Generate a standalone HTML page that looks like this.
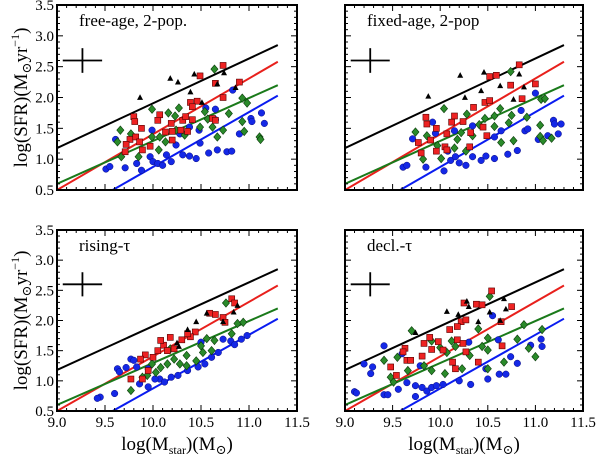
<!DOCTYPE html>
<html><head><meta charset="utf-8"><style>
body{margin:0;background:#fff}
svg{display:block}
text{font-family:"Liberation Serif","DejaVu Serif",serif;fill:#000}
</style></head><body>
<svg id="chart" width="600" height="460" viewBox="0 0 600 460"></svg>
<script>
const panelTitles=["free-age, 2-pop.","fixed-age, 2-pop","rising-\u03c4","decl.-\u03c4"];
const xTicks=[9.0,9.5,10.0,10.5,11.0,11.5];
const yTicks=[0.5,1.0,1.5,2.0,2.5,3.0,3.5];
const fitBlack=[[9.0,1.18],[11.3,2.85]];
const fitRed=[[9.0,0.5],[11.3,2.58]];
const fitGreen=[[9.0,0.6],[11.3,2.2]];
const fitBlue=[[9.58,0.5],[11.3,2.03]];
const errBar={x:9.265,y:2.6,dx:0.205,dy:0.2};

const p1Black=[[9.865,2.0],[10.18,2.31],[10.26,2.25],[10.43,2.38],[10.39,2.09],[10.51,1.92],[10.74,2.4],[10.67,2.22],[10.86,2.16]];
const p1Red=[[10.49,2.35],[10.73,2.52],[10.65,2.23],[10.9,2.25],[10.73,2.0],[10.39,1.92],[10.46,1.94],[10.41,1.85],[10.07,1.72],[9.8,1.69],[9.81,1.61],[9.88,1.5],[10.05,1.63],[10.19,1.58],[10.31,1.63],[10.34,1.69],[10.41,1.64],[10.29,1.47],[10.36,1.45],[10.62,1.66],[10.65,1.63],[10.2,1.31],[10.2,1.45],[9.76,1.32],[9.82,1.36],[9.86,1.28],[9.72,1.24],[9.71,1.12],[9.97,1.21],[9.89,1.15],[10.13,1.44]];
const p1Green=[[10.64,2.46],[9.99,1.81],[10.27,1.83],[10.16,1.75],[10.23,1.7],[10.54,1.77],[10.57,1.65],[10.79,1.74],[10.93,1.99],[10.98,1.91],[9.66,1.47],[9.77,1.41],[9.63,1.28],[9.67,1.04],[9.85,1.04],[9.99,1.36],[10.07,1.36],[10.13,1.28],[10.06,1.15],[10.33,1.39],[10.49,1.52],[10.62,1.52],[10.67,1.36],[10.73,1.47],[10.93,1.61],[10.95,1.45],[11.11,1.36],[11.12,1.32],[10.24,1.47]];
const p1Blue=[[9.51,0.84],[9.55,0.88],[9.61,1.32],[9.71,0.86],[9.83,0.93],[9.88,0.82],[9.97,1.04],[10.0,0.96],[10.05,0.93],[10.1,0.9],[10.14,1.07],[10.19,0.96],[9.99,1.47],[10.24,1.23],[10.31,1.07],[10.38,1.05],[10.45,1.01],[10.58,1.1],[10.67,1.15],[10.77,1.12],[10.82,1.13],[10.48,1.47],[10.65,1.64],[10.55,1.83],[10.65,1.81],[10.83,2.12],[10.9,1.41],[11.02,1.66],[11.03,1.61],[11.13,1.75],[11.16,1.58],[10.38,1.52],[10.49,1.26],[10.28,1.41]];

const p2Black=[[9.875,2.02],[10.21,2.36],[10.26,2.0],[10.46,2.41],[10.43,2.11],[10.63,2.19],[10.83,2.38],[10.77,1.97],[10.88,2.17]];
const p2Red=[[10.52,2.34],[10.59,2.36],[10.83,2.53],[10.74,2.2],[11.0,2.22],[10.86,1.98],[10.35,1.84],[10.47,1.92],[10.52,1.95],[10.15,1.7],[10.12,1.6],[9.85,1.68],[9.86,1.57],[9.96,1.5],[10.24,1.61],[10.45,1.52],[10.49,1.38],[10.07,1.41],[9.9,1.31],[9.77,1.27],[9.8,1.1],[9.96,1.13],[10.05,1.2],[10.07,1.15],[10.31,1.2],[10.32,1.43]];
const p2Green=[[10.04,1.82],[10.63,1.82],[10.74,2.42],[10.28,1.73],[10.47,1.66],[10.75,1.71],[9.74,1.44],[9.86,1.38],[9.82,1.0],[9.97,1.22],[10.01,1.01],[10.15,1.18],[10.22,1.43],[10.34,1.38],[10.41,1.56],[10.57,1.53],[10.72,1.59],[10.64,1.27],[10.77,1.3],[11.06,1.97],[11.1,1.98],[11.05,1.55],[11.05,1.37],[11.17,1.34],[11.08,1.3],[10.91,1.68],[10.18,1.32],[10.27,1.13],[10.57,1.7]];
const p2Blue=[[9.61,0.87],[9.65,0.9],[9.85,0.87],[9.71,1.33],[9.92,1.6],[9.95,1.42],[10.04,0.81],[10.11,0.98],[10.16,1.04],[10.2,0.94],[10.27,0.9],[10.34,1.04],[10.43,0.98],[10.48,1.05],[10.57,1.01],[10.71,1.08],[10.81,1.14],[10.89,1.46],[10.92,1.49],[10.85,1.79],[11.0,2.07],[11.19,1.63],[11.2,1.57],[11.27,1.57],[11.24,1.41],[11.13,1.38],[11.03,1.32],[10.57,1.36],[10.34,1.54],[10.64,1.46],[10.15,1.46],[10.08,1.13]];

const p3Black=[[10.45,1.98],[10.36,1.85],[10.27,1.57],[10.84,2.14],[10.88,2.25],[10.73,1.98],[10.56,2.12],[10.25,1.63]];
const p3Red=[[10.82,2.36],[10.85,2.29],[10.65,2.1],[10.59,2.12],[10.73,2.05],[10.75,1.97],[10.44,1.81],[10.39,1.73],[10.3,1.68],[10.18,1.72],[10.11,1.59],[10.05,1.5],[10.15,1.5],[10.22,1.53],[9.92,1.43],[9.87,1.36],[9.95,1.17],[9.77,1.03],[9.89,1.03],[10.08,1.67],[10.36,1.78],[10.0,1.39]];
const p3Green=[[10.76,2.29],[10.88,1.95],[10.82,1.78],[10.56,1.7],[10.61,1.5],[10.45,1.33],[10.35,1.42],[10.28,1.28],[10.22,1.36],[10.15,1.28],[10.08,1.22],[10.03,1.14],[9.94,1.09],[9.89,1.06],[9.77,0.84],[9.99,1.28],[10.18,1.53],[10.35,1.25],[10.52,1.47],[10.64,1.67],[10.94,1.97],[10.5,1.58]];
const p3Blue=[[9.45,0.73],[9.42,0.71],[9.6,0.79],[9.63,1.2],[9.65,1.15],[9.72,1.22],[9.77,1.36],[9.83,1.23],[9.86,0.95],[9.95,0.9],[10.07,1.03],[10.12,0.98],[10.26,1.09],[10.36,1.17],[10.47,1.23],[10.54,1.28],[10.61,1.39],[10.68,1.47],[10.73,1.69],[10.81,1.66],[10.85,1.6],[10.92,1.69],[10.98,1.75],[9.95,1.2],[9.8,1.34],[10.5,1.64],[10.02,1.03],[10.19,1.06]];

const p4Black=[[10.07,2.15],[10.19,2.1],[10.28,2.32],[10.3,2.23],[10.4,1.98],[10.52,2.14],[10.67,2.36],[10.69,2.19],[9.74,1.8],[10.63,2.0]];
const p4Red=[[10.54,2.49],[10.25,2.29],[10.38,2.27],[10.44,2.26],[10.75,2.23],[10.64,1.98],[10.22,1.98],[10.18,1.9],[10.27,2.01],[10.1,1.85],[9.89,1.72],[9.83,1.62],[9.98,1.65],[9.91,1.52],[9.63,1.54],[9.61,1.48],[9.65,1.34],[9.69,1.34],[9.81,1.41],[9.48,1.23],[9.54,1.09],[10.03,1.51],[10.13,1.31],[10.18,1.68],[10.24,1.62],[10.4,1.31],[10.16,1.2],[10.65,1.58],[10.27,1.48]];
const p4Green=[[10.52,2.4],[9.7,1.83],[10.4,1.86],[10.5,1.71],[9.91,1.66],[10.12,1.66],[10.07,1.47],[10.0,1.55],[9.41,1.34],[9.55,1.39],[9.66,1.17],[9.83,1.25],[9.91,1.17],[9.48,1.06],[9.51,0.98],[10.05,1.12],[10.23,1.2],[10.31,1.42],[10.5,1.51],[10.5,1.2],[10.67,1.31],[10.88,1.93],[10.81,1.69],[10.93,1.54],[11.0,1.4],[11.07,1.85],[10.16,1.57],[10.44,1.57]];
const p4Blue=[[9.1,0.82],[9.12,0.8],[9.41,0.77],[9.45,0.77],[9.2,1.28],[9.29,1.23],[9.27,1.12],[9.41,1.58],[9.56,0.86],[9.65,0.97],[9.74,0.92],[9.81,0.89],[9.86,0.83],[9.91,0.89],[9.96,0.92],[10.03,0.94],[9.74,0.74],[10.2,1.0],[10.32,0.94],[10.5,1.03],[10.62,1.11],[10.69,1.11],[10.48,1.2],[10.74,1.4],[10.81,1.29],[10.95,1.59],[11.06,1.69],[11.07,1.57],[10.61,1.68],[10.55,2.08],[10.3,1.64],[9.6,1.45],[9.79,1.25]];

const NS="http://www.w3.org/2000/svg";
const svg=document.getElementById('chart');
function mk(tag,attrs,parent){const e=document.createElementNS(NS,tag);for(const k in attrs)e.setAttribute(k,attrs[k]);(parent||svg).appendChild(e);return e;}

const panels=[
 {x0:57,x1:297,y0:5,y1:190,t:0,bl:p1Blue,gr:p1Green,rd:p1Red,bk:p1Black,left:true,bottom:false},
 {x0:345,x1:583,y0:5,y1:190,t:1,bl:p2Blue,gr:p2Green,rd:p2Red,bk:p2Black,left:false,bottom:false},
 {x0:57,x1:297,y0:230,y1:411,t:2,bl:p3Blue,gr:p3Green,rd:p3Red,bk:p3Black,left:true,bottom:true},
 {x0:345,x1:583,y0:230,y1:411,t:3,bl:p4Blue,gr:p4Green,rd:p4Red,bk:p4Black,left:false,bottom:true}
];
const panelNames=['panel-free-age','panel-fixed-age','panel-rising-tau','panel-declining-tau'];

panels.forEach((P,pi)=>{
 const g=mk('g',{});
 
 
 const clipId='clip'+pi;
 const cp=mk('clipPath',{id:clipId},g);
 mk('rect',{x:P.x0,y:P.y0,width:P.x1-P.x0,height:P.y1-P.y0},cp);
 const sx=v=>P.x0+(v-9.0)/2.5*(P.x1-P.x0);
 const sy=v=>P.y1-(v-0.5)/3.0*(P.y1-P.y0);
 const plot=mk('g',{'clip-path':'url(#'+clipId+')'},g);
 [[fitBlack,'#000','fit-line-black'],[fitRed,'#e8201c','fit-line-red'],[fitGreen,'#1a7a1a','fit-line-green'],[fitBlue,'#0a1cf0','fit-line-blue']].forEach(f=>{
  const l=mk('line',{x1:sx(f[0][0][0]),y1:sy(f[0][0][1]),x2:sx(f[0][1][0]),y2:sy(f[0][1][1]),stroke:f[1],'stroke-width':2},plot);
  
  
 });
 P.bl.forEach(d=>{const c=mk('circle',{cx:sx(d[0]),cy:sy(d[1]),r:3.3,fill:'#1428e6',stroke:'#0a0a80','stroke-width':0.5},plot);
  
  });
 P.gr.forEach(d=>{const x=sx(d[0]),y=sy(d[1]);const c=mk('polygon',{points:`${x},${y-4.2} ${x+3.6},${y} ${x},${y+4.2} ${x-3.6},${y}`,fill:'#2a8a2a',stroke:'#0a3a0a','stroke-width':0.6},plot);
  
  });
 P.rd.forEach(d=>{const c=mk('rect',{x:sx(d[0])-3,y:sy(d[1])-3,width:6,height:6,fill:'#ee2222',stroke:'#500','stroke-width':0.6},plot);
  
  });
 P.bk.forEach(d=>{const x=sx(d[0]),y=sy(d[1]);const c=mk('polygon',{points:`${x},${y-3.2} ${x+3},${y+2.4} ${x-3},${y+2.4}`,fill:'#000'},plot);
  
  });
 const eb=mk('g',{stroke:'#000','stroke-width':1.8},g);
 
 
 mk('line',{x1:sx(errBar.x-errBar.dx),y1:sy(errBar.y),x2:sx(errBar.x+errBar.dx),y2:sy(errBar.y)},eb);
 mk('line',{x1:sx(errBar.x),y1:sy(errBar.y-errBar.dy),x2:sx(errBar.x),y2:sy(errBar.y+errBar.dy)},eb);
 const tk=mk('g',{stroke:'#000','stroke-width':1},g);
 for(let i=0;i<=25;i++){const v=9+i*0.1;const x=sx(v);const L=(i%5===0)?6:3;
  mk('line',{x1:x,y1:P.y1,x2:x,y2:P.y1-L},tk);mk('line',{x1:x,y1:P.y0,x2:x,y2:P.y0+L},tk);}
 for(let i=0;i<=30;i++){const v=0.5+i*0.1;const y=sy(v);const L=(i%5===0)?6:3;
  mk('line',{x1:P.x0,y1:y,x2:P.x0+L,y2:y},tk);mk('line',{x1:P.x1,y1:y,x2:P.x1-L,y2:y},tk);}
 const fr=mk('rect',{x:P.x0,y:P.y0,width:P.x1-P.x0,height:P.y1-P.y0,fill:'none',stroke:'#000','stroke-width':2},g);
 
 
 if(P.left){yTicks.forEach(v=>{const t=mk('text',{x:P.x0-3,y:sy(v)+5,'text-anchor':'end','font-size':15},g);t.textContent=v.toFixed(1);
  
  });
  const yl=mk('text',{x:0,y:0,'text-anchor':'middle','font-size':19,transform:`translate(27,${(P.y0+P.y1)/2}) rotate(-90)`},g);
  yl.innerHTML='log(SFR)(M<tspan font-size="13" dy="4">\u2299</tspan><tspan dy="-4">yr</tspan><tspan font-size="12" dy="-8">\u22121</tspan><tspan dy="8">)</tspan>';
  
  }
 if(P.bottom){xTicks.forEach(v=>{const t=mk('text',{x:sx(v),y:P.y1+16,'text-anchor':'middle','font-size':15},g);t.textContent=v.toFixed(1);
  
  });
  const xl=mk('text',{x:(P.x0+P.x1)/2,y:P.y1+39,'text-anchor':'middle','font-size':19},g);
  xl.innerHTML='log(M<tspan font-size="12" dy="4">star</tspan><tspan dy="-4">)(M</tspan><tspan font-size="13" dy="4">\u2299</tspan><tspan dy="-4">)</tspan>';
  
  }
 const tt=mk('text',{x:P.x0+22,y:P.y0+21,'font-size':17},g);
 tt.textContent=panelTitles[P.t];
 
 
});
</script>
</body></html>
